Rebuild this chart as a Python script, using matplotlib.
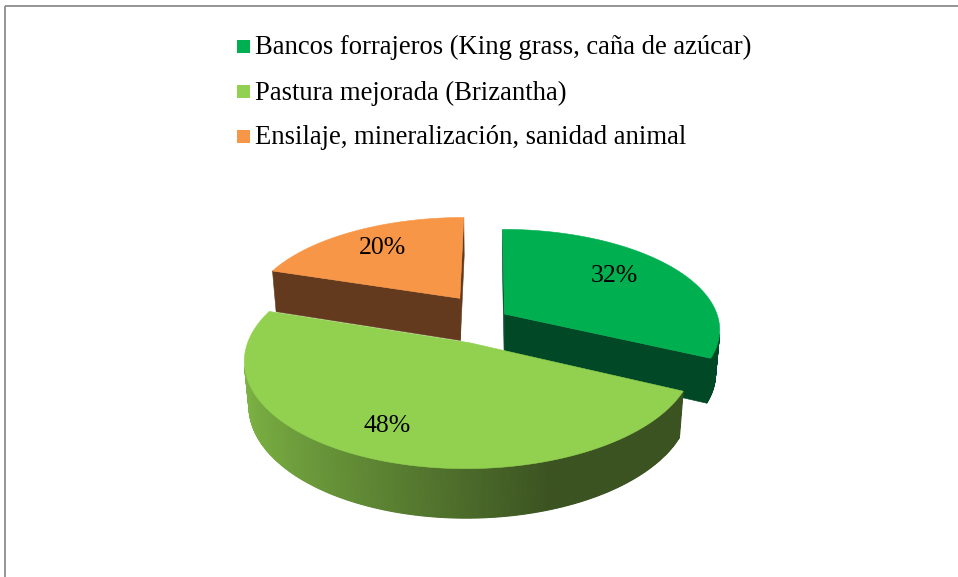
import numpy as np
import matplotlib
matplotlib.use("Agg")
import matplotlib.pyplot as plt
from matplotlib.patches import Polygon, Rectangle
from matplotlib.colors import to_rgb

# Datos del grafico
etiquetas = ["Bancos forrajeros (King grass, caña de azúcar)",
             "Pastura mejorada (Brizantha)",
             "Ensilaje, mineralización, sanidad animal"]
valores = [32, 48, 20]

# Colores (cara superior, pared)
COLOR_SUP = ["#00b050", "#92d050", "#f79646"]
COLOR_PARED = ["#004826", "#3b5221", "#633a1e"]
COLOR_PARED_CLARO = ["#004826", "#7db444", "#633a1e"]
FUENTE = ["Liberation Serif", "DejaVu Serif"]

# Geometria del pastel 3D (pixeles)
CENTRO = (490.8, 318.0)
RADIO = 213.8
ELEV = np.arcsin(0.461)
PERSP = 0.151
ALTO = 49.4
EXPLODE = [0.076, 0.26, 0.254]
# posicion de las etiquetas (fraccion del radio, giro en grados)
DIST_ETIQ = [0.695, 0.77, 0.725]
GIRO_ETIQ = [4.5, -3.0, -1.0]


def proyectar(X, Y, Z):
    s, c = np.sin(ELEV), np.cos(ELEV)
    D = c * RADIO / PERSP
    f = D / (D + Y * c - Z * s)
    return CENTRO[0] + X * f, CENTRO[1] - (Y * s + Z * c) * f


def camara():
    s, c = np.sin(ELEV), np.cos(ELEV)
    D = c * RADIO / PERSP
    return np.array([0.0, -D * c, D * s])


def visible(n, P):
    return np.dot(n, camara() - P) > 0


def poligono(ax, pts3d, color, lw=0.4):
    X, Y, Z = np.array(pts3d).T
    px, py = proyectar(X, Y, Z)
    ax.add_patch(Polygon(np.column_stack([px, py]), closed=True, facecolor=color,
                         edgecolor=color, linewidth=lw, antialiased=True))


fig = plt.figure(figsize=(9.58, 5.77), dpi=100)
ax = fig.add_axes([0, 0, 1, 1])
ax.set_xlim(0, 958)
ax.set_ylim(577, 0)
ax.axis("off")

# marco
ax.plot([5, 958], [6, 6], color="#8c8c8c", lw=1.3, solid_capstyle="butt")
ax.plot([5, 5], [6, 577], color="#8c8c8c", lw=1.3, solid_capstyle="butt")

# angulos de cada porcion: empieza a las 12 en sentido horario
total = float(sum(valores))
porciones = []
a0 = 90.0
for i, v in enumerate(valores):
    a1 = a0 - 360.0 * v / total
    bis = np.radians((a0 + a1) / 2)
    e = EXPLODE[i] * RADIO
    porciones.append(dict(i=i, a=np.radians(a0), b=np.radians(a1), bis=bis,
                          ox=e * np.cos(bis), oy=e * np.sin(bis)))
    a0 = a1

# dibujar de atras hacia adelante
for p in sorted(porciones, key=lambda d: -d["oy"]):
    i = p["i"]
    ox, oy = p["ox"], p["oy"]
    ap_sup = np.array([ox, oy, 0.0])
    ap_inf = np.array([ox, oy, -ALTO])
    th = np.linspace(p["a"], p["b"], 300)
    arco_x = ox + RADIO * np.cos(th)
    arco_y = oy + RADIO * np.sin(th)

    # caras radiales
    for ang, n in [(p["a"], np.array([-np.sin(p["a"]), np.cos(p["a"]), 0])),
                   (p["b"], np.array([np.sin(p["b"]), -np.cos(p["b"]), 0]))]:
        if visible(n, ap_sup):
            bx = ox + RADIO * np.cos(ang)
            by = oy + RADIO * np.sin(ang)
            poligono(ax, [ap_sup, (bx, by, 0), (bx, by, -ALTO), ap_inf], COLOR_PARED[i])

    # pared exterior con degradado
    c_claro = np.array(to_rgb(COLOR_PARED_CLARO[i]))
    c_osc = np.array(to_rgb(COLOR_PARED[i]))
    for k in range(len(th) - 1):
        tm = (th[k] + th[k + 1]) / 2
        n = np.array([np.cos(tm), np.sin(tm), 0])
        P = np.array([ox + RADIO * np.cos(tm), oy + RADIO * np.sin(tm), 0])
        if not visible(n, P):
            continue
        luz = np.clip((0.33 - np.cos(tm)) / 1.33, 0, 1)
        col = c_osc + (c_claro - c_osc) * luz
        q = [(arco_x[k], arco_y[k], 0), (arco_x[k + 1], arco_y[k + 1], 0),
             (arco_x[k + 1], arco_y[k + 1], -ALTO), (arco_x[k], arco_y[k], -ALTO)]
        poligono(ax, q, col, lw=0.8)

    # cara superior
    sup = [ap_sup] + [(x, y, 0) for x, y in zip(arco_x, arco_y)]
    poligono(ax, sup, COLOR_SUP[i])

# etiquetas de porcentaje
for p in porciones:
    i = p["i"]
    g = p["bis"] + np.radians(GIRO_ETIQ[i])
    X = p["ox"] + DIST_ETIQ[i] * RADIO * np.cos(g)
    Y = p["oy"] + DIST_ETIQ[i] * RADIO * np.sin(g)
    px, py = proyectar(X, Y, 0.0)
    ax.text(px, py, "%d%%" % round(100 * valores[i] / total), ha="center", va="center",
            fontsize=18.5, family=FUENTE, color="black")

# leyenda
for k, (lab, col) in enumerate(zip(etiquetas, COLOR_SUP)):
    yc = 46.5 + 45 * k
    ax.add_patch(Rectangle((237, yc - 6.5), 13, 13, facecolor=col, edgecolor="none"))
    ax.text(255, yc + 8, lab, ha="left", va="baseline", fontsize=19.2, family=FUENTE, color="black")

fig.savefig("out.png", dpi=100)
